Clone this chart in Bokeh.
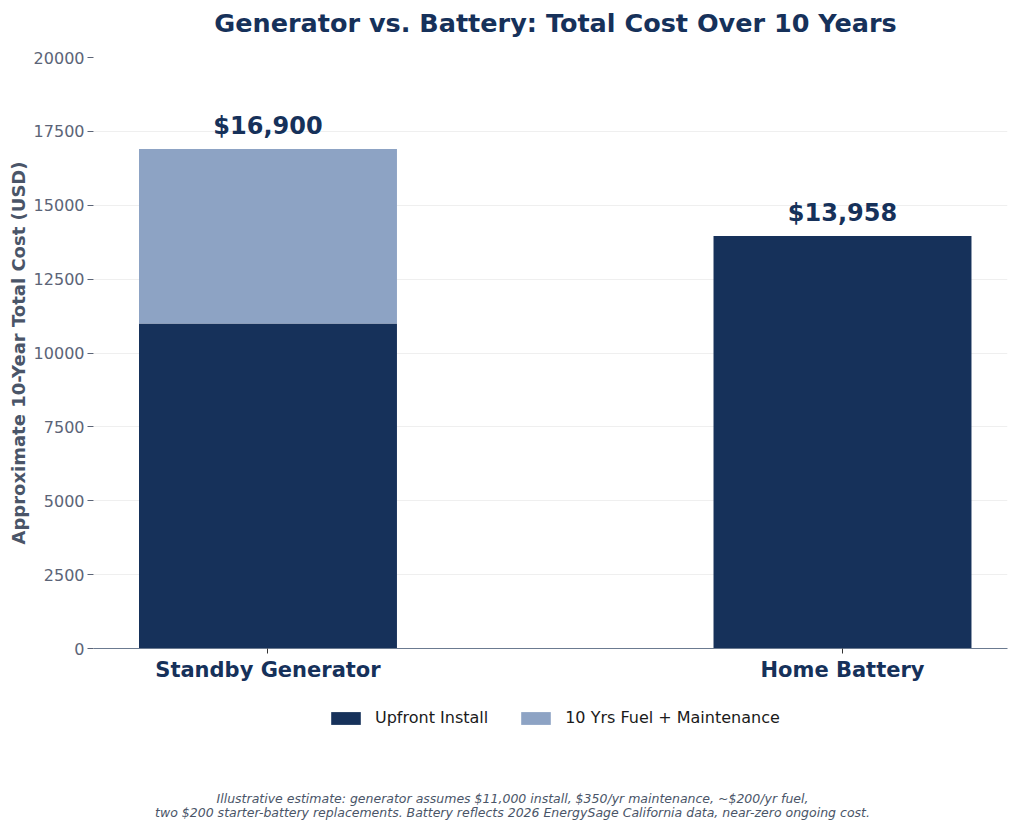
from bokeh.plotting import figure
from bokeh.layouts import column
from bokeh.models import (Range1d, FixedTicker, Legend, LegendItem, Label,
                          ColumnDataSource)
from bokeh.embed import file_html
from bokeh.resources import INLINE
from bokeh.core.properties import value

# ---------------- data ----------------
categories = ["Standby Generator", "Home Battery"]
upfront = [11000, 13958]
fuel_maint = [5900, 0]
y_ticks = [0, 2500, 5000, 7500, 10000, 12500, 15000, 17500, 20000]
series_names = ["Upfront Install", "10 Yrs Fuel + Maintenance"]
title_text = "Generator vs. Battery: Total Cost Over 10 Years"
y_label = "Approximate 10-Year Total Cost (USD)"
note_1 = "Illustrative estimate: generator assumes $11,000 install, $350/yr maintenance, ~$200/yr fuel,"
note_2 = "two $200 starter-battery replacements. Battery reflects 2026 EnergySage California data, near-zero ongoing cost."

# ---------------- derived ----------------
x_pos = list(range(len(categories)))
totals = [u + f for u, f in zip(upfront, fuel_maint)]
labels = [f"${t:,}" for t in totals]
src = ColumnDataSource(dict(x=x_pos, upfront=upfront, totals=totals, labels=labels))

NAVY = "#16315a"
LIGHT = "#8da3c4"
GREY = "#5b6477"
FONT = "DejaVu Sans"


def strip(height):
    """A plain figure whose frame is aligned with the main frame (93..1007 px)."""
    f = figure(width=1008, height=height, output_backend="svg",
               toolbar_location=None, x_range=Range1d(93, 1007),
               y_range=Range1d(0, height), x_axis_type=None, y_axis_type=None,
               min_border_left=0, min_border_right=0, min_border_top=0,
               min_border_bottom=0, background_fill_color="white",
               border_fill_color="white")
    f.outline_line_color = None
    f.grid.grid_line_color = None
    return f


# ---------------- title strip ----------------
p0 = strip(45)
p0.add_layout(Label(x=555, y=22.5, text=title_text, text_align="center",
                    text_baseline="middle", text_font=FONT,
                    text_font_size="25.5px", text_font_style="bold",
                    text_color=NAVY))

# ---------------- main chart ----------------
p = figure(width=1008, height=645, output_backend="svg", toolbar_location=None,
           x_range=Range1d(-0.3037, 1.2872), y_range=Range1d(0, 20000),
           min_border_left=93, min_border_right=1, min_border_top=12,
           min_border_bottom=42, background_fill_color="white",
           border_fill_color="white")
p.outline_line_color = None
p.title.visible = False
p.title.standoff = 0

r1 = p.vbar(x="x", bottom=0, top="upfront", width=0.449, source=src,
            fill_color=NAVY, line_color=None)
r2 = p.vbar(x="x", bottom="upfront", top="totals", width=0.449, source=src,
            fill_color=LIGHT, line_color=None)

p.text(x="x", y="totals", text="labels", source=src, text_align="center",
       text_baseline="bottom", y_offset=-9, text_font=value(FONT),
       text_font_size="24px", text_font_style="bold", text_color=NAVY)

# y axis
p.yaxis.ticker = FixedTicker(ticks=y_ticks)
p.yaxis.axis_line_color = None
p.yaxis.major_tick_in = 0
p.yaxis.major_tick_out = 6
p.yaxis.major_tick_line_color = GREY
p.yaxis.minor_tick_line_color = None
p.yaxis.major_label_text_font = FONT
p.yaxis.major_label_text_font_size = "16px"
p.yaxis.major_label_text_color = GREY
p.yaxis.major_label_standoff = 3
p.yaxis.axis_label = y_label
p.yaxis.axis_label_text_font = FONT
p.yaxis.axis_label_text_font_size = "18px"
p.yaxis.axis_label_text_font_style = "bold"
p.yaxis.axis_label_text_color = "#4a5568"
p.yaxis.axis_label_standoff = 2

# x axis
p.xaxis.ticker = FixedTicker(ticks=x_pos)
p.xaxis.major_label_overrides = {i: c for i, c in zip(x_pos, categories)}
p.xaxis.axis_line_color = "#6b7a90"
p.xaxis.major_tick_in = 0
p.xaxis.major_tick_out = 5
p.xaxis.major_tick_line_color = "#333333"
p.xaxis.minor_tick_line_color = None
p.xaxis.major_label_text_font = FONT
p.xaxis.major_label_text_font_size = "21px"
p.xaxis.major_label_text_font_style = "bold"
p.xaxis.major_label_text_color = NAVY
p.xaxis.major_label_standoff = 4

p.xgrid.grid_line_color = None
p.ygrid.ticker = FixedTicker(ticks=y_ticks)
p.ygrid.grid_line_color = "#efefef"

# ---------------- legend + footnote strip ----------------
p2 = strip(134)

# legend proxies: same data, not drawn
k1 = p2.vbar(x="x", bottom=0, top="upfront", width=0.449, source=src,
             fill_color=NAVY, line_color=None, visible=False)
k2 = p2.vbar(x="x", bottom="upfront", top="totals", width=0.449, source=src,
             fill_color=LIGHT, line_color=None, visible=False)

legend = Legend(items=[LegendItem(label=series_names[0], renderers=[k1]),
                       LegendItem(label=series_names[1], renderers=[k2])],
                orientation="horizontal", location=(234, 97),
                border_line_color=None, background_fill_alpha=0,
                inactive_fill_alpha=0,
                label_text_font=FONT, label_text_font_size="16px",
                label_text_color="#1a1a1a",
                glyph_width=37, glyph_height=16, spacing=29, label_standoff=11,
                margin=0, padding=10)
p2.add_layout(legend, "center")

for txt, yy in ((note_1, 26), (note_2, 12)):
    p2.add_layout(Label(x=512, y=yy, text=txt, text_align="center",
                        text_baseline="middle", text_font=FONT,
                        text_font_size="12.5px", text_font_style="italic",
                        text_color="#4a5568"))

open("out.html", "w").write(file_html(column(p0, p, p2), INLINE))
